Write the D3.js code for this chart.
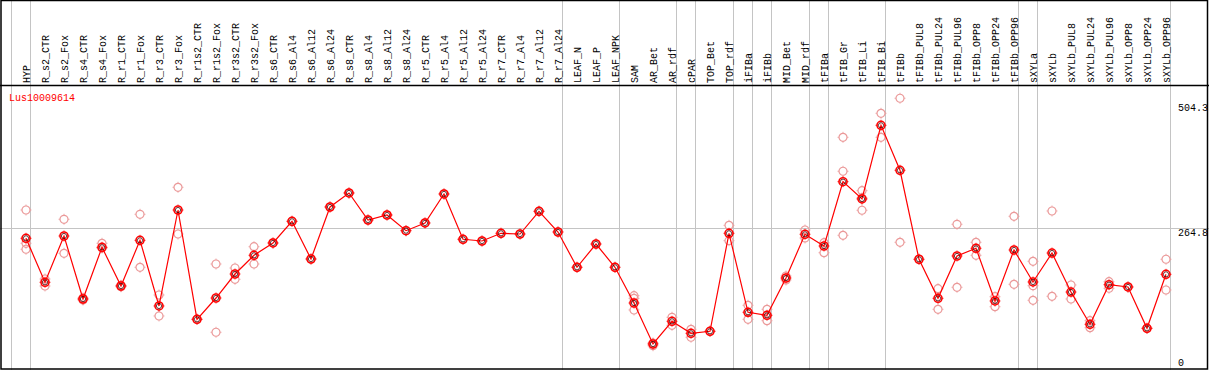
<!DOCTYPE html>
<html>
<head>
<meta charset="utf-8">
<script src="https://cdn.jsdelivr.net/npm/d3@7"></script>
<style>
  body { margin: 0; background: #fff; }
  text { font-family: "Liberation Mono", "DejaVu Sans Mono", monospace; font-size: 10px; }
</style>
</head>
<body>
<script>
// samples (columns)
var samples = ["HYP", "R_s2_CTR", "R_s2_Fox", "R_s4_CTR", "R_s4_Fox", "R_r1_CTR", "R_r1_Fox",
  "R_r3_CTR", "R_r3_Fox", "R_r1s2_CTR", "R_r1s2_Fox", "R_r3s2_CTR", "R_r3s2_Fox",
  "R_s6_CTR", "R_s6_Al4", "R_s6_Al12", "R_s6_Al24", "R_s8_CTR", "R_s8_Al4", "R_s8_Al12", "R_s8_Al24",
  "R_r5_CTR", "R_r5_Al4", "R_r5_Al12", "R_r5_Al24", "R_r7_CTR", "R_r7_Al4", "R_r7_Al12", "R_r7_Al24",
  "LEAF_N", "LEAF_P", "LEAF_NPK", "SAM", "AR_Bet", "AR_rdf", "cPAR", "TOP_Bet", "TOP_rdf",
  "iFIBa", "iFIBb", "MID_Bet", "MID_rdf", "tFIBa", "tFIB_Gr", "tFIB_Li", "tFIB_Bi", "tFIBb",
  "tFIBb_PUL8", "tFIBb_PUL24", "tFIBb_PUL96", "tFIBb_OPP8", "tFIBb_OPP24", "tFIBb_OPP96",
  "sXYLa", "sXYLb", "sXYLb_PUL8", "sXYLb_PUL24", "sXYLb_PUL96", "sXYLb_OPP8", "sXYLb_OPP24", "sXYLb_OPP96"];

// mean expression per sample
var means = [244.5, 160.0, 248.9, 127.9, 227.2, 152.9, 240.6, 114.5, 298.8, 88.9, 129.8, 175.9, 211.8,
  235.5, 277.1, 204.7, 304.6, 331.5, 279.6, 289.2, 259.1,
  273.9, 329.6, 242.6, 239.3, 254.1, 252.7, 296.3, 256.6,
  188.8, 233.5, 188.8, 120.2, 41.5, 85.1, 62.0, 65.9, 254.1,
  102.4, 96.6, 168.2, 252.2, 229.7, 353.2, 320.0, 461.5, 375.1,
  204.2, 129.2, 210.5, 225.3, 124.1, 222.0,
  160.6, 216.2, 141.3, 79.3, 155.4, 151.0, 71.6, 175.3];

// replicate values per sample
var replicates = [
  [298.8, 234.9, 223.4], [166.3, 152.9], [281.0, 215.7], [129.8, 126.0], [234.9, 225.8],
  [154.2, 151.5], [290.6, 188.8], [135.6, 95.3], [342.4, 252.7], [88.9], [195.1, 64.0],
  [187.4, 165.7], [228.3, 195.1],
  [235.5], [277.1], [204.7], [304.6], [331.5], [279.6], [289.2], [259.1],
  [273.9], [329.6], [242.6], [239.3], [254.1], [252.7], [296.3], [256.6],
  [188.8], [233.5], [188.8],
  [134.2, 129.2, 106.8], [38.2, 43.4], [92.8, 77.4], [69.7, 54.4], [65.9], [269.4, 239.9],
  [115.8, 88.9], [108.1, 86.2], [172.1, 164.4], [260.4, 245.1], [236.0, 216.8],
  [438.4, 373.2, 250.2], [335.9, 298.3, 322.0], [484.5, 438.4], [513.4, 236.8],
  [204.2], [147.7, 108.1], [271.4, 150.4], [236.8, 211.8], [113.1, 132.3], [286.7, 156.1],
  [200.3, 153.4, 125.4], [296.9, 133.1], [154.8, 127.9], [86.2, 72.8], [161.1, 148.5],
  [151.0], [71.6], [204.2, 145.2]
];

// group separators drawn after these sample indexes (-1 = before first)
var separators = [-1, 0, 28, 31, 34, 35, 37, 38, 39, 41, 42, 45, 52, 53, 60];

var yTicks = [0, 264.8, 504.3];
var geneName = "Lus10009614";

var svgWidth = 1209, svgHeight = 370;
var headerY = 85;

var svg = d3.select("body").append("svg").attr("width", svgWidth).attr("height", svgHeight);

var x = d3.scalePoint().domain(samples).range([26, 1166]);
var y = d3.scaleLinear().domain([0, 504.3]).range([365.6, 103]);

// vertical separators
svg.selectAll(".sep")
  .data(separators)
  .enter()
  .append("line")
  .attr("x1", d => (d < 0 ? x(samples[0]) - x.step() : x(samples[d])) + 4.5)
  .attr("x2", d => (d < 0 ? x(samples[0]) - x.step() : x(samples[d])) + 4.5)
  .attr("y1", 0)
  .attr("y2", svgHeight)
  .attr("stroke", "#c4c4c4");

// horizontal gridline at the middle tick
svg.append("line")
  .attr("x1", 0).attr("x2", svgWidth)
  .attr("y1", Math.round(y(yTicks[1])) + 0.5).attr("y2", Math.round(y(yTicks[1])) + 0.5)
  .attr("stroke", "#c4c4c4");

// borders
svg.append("rect")
  .attr("x", 1).attr("y", 0.5).attr("width", svgWidth - 2.5).attr("height", svgHeight - 1.5)
  .attr("fill", "none").attr("stroke", "black").attr("stroke-width", 1.5);
svg.append("line")
  .attr("x1", 0).attr("x2", svgWidth)
  .attr("y1", headerY + 0.5).attr("y2", headerY + 0.5)
  .attr("stroke", "black").attr("stroke-width", 1.5);

// sample labels
svg.selectAll(".lab")
  .data(samples)
  .enter()
  .append("text")
  .attr("transform", d => `translate(${x(d) + 4}, 83) rotate(-90)`)
  .attr("fill", "black")
  .text(d => d);

// y tick labels
svg.selectAll(".tick")
  .data(yTicks)
  .enter()
  .append("text")
  .attr("x", 1178)
  .attr("y", d => Math.min(y(d) + 8, 366))
  .attr("fill", "black")
  .text(d => d);

// gene name
svg.append("text")
  .attr("x", 9).attr("y", 101)
  .attr("fill", "red")
  .text(geneName);

function marker(g, color, width) {
  g.append("circle").attr("r", 4).attr("fill", "none").attr("stroke", color).attr("stroke-width", width);
  [[0, -5.5, 0, -4], [0, 4, 0, 5.5], [-5.5, 0, -4, 0], [4, 0, 5.5, 0]].forEach(function(t) {
    g.append("line").attr("x1", t[0]).attr("y1", t[1]).attr("x2", t[2]).attr("y2", t[3])
      .attr("stroke", color).attr("stroke-width", 0.8);
  });
}

// replicate points
var repData = [];
replicates.forEach(function(r, i) {
  r.forEach(function(v) { repData.push({ s: samples[i], v: v }); });
});
svg.selectAll(".rep")
  .data(repData)
  .enter()
  .append("g")
  .attr("transform", d => `translate(${x(d.s)}, ${y(d.v)})`)
  .each(function() { marker(d3.select(this), "#eb9a9a", 1.2); });

// mean line
var line = d3.line().x((d, i) => x(samples[i])).y(d => y(d));
svg.append("path")
  .datum(means)
  .attr("d", line)
  .attr("fill", "none")
  .attr("stroke", "red")
  .attr("stroke-width", 1.2);

// mean points
svg.selectAll(".mean")
  .data(means)
  .enter()
  .append("g")
  .attr("transform", (d, i) => `translate(${x(samples[i])}, ${y(d)})`)
  .each(function() {
    var g = d3.select(this);
    marker(g, "red", 1.6);
    g.append("circle").attr("r", 2.6).attr("fill", "none").attr("stroke", "#400").attr("stroke-width", 0.8);
  });
</script>
</body>
</html>
